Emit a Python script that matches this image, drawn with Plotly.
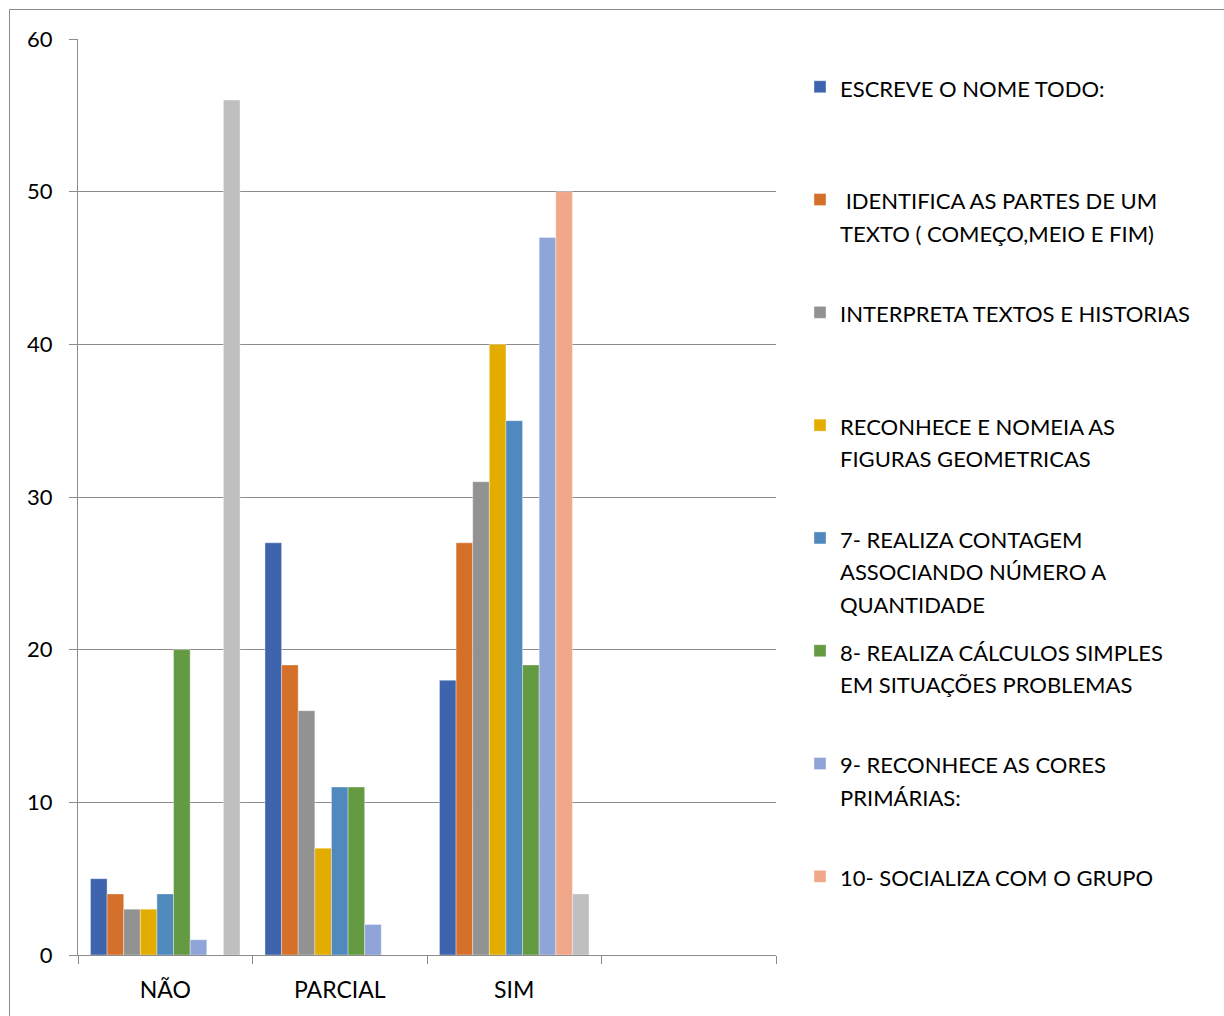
import plotly.graph_objects as go

# ---------------- data ----------------
categories = ["NÃO", "PARCIAL", "SIM", " "]

series_labels = [
    ["ESCREVE O NOME TODO:"],
    ["\u00a0IDENTIFICA AS PARTES DE UM", "TEXTO ( COMEÇO,MEIO E FIM)"],
    ["INTERPRETA TEXTOS E HISTORIAS"],
    ["RECONHECE E NOMEIA AS", "FIGURAS GEOMETRICAS"],
    ["7- REALIZA CONTAGEM", "ASSOCIANDO NÚMERO A", "QUANTIDADE"],
    ["8- REALIZA CÁLCULOS SIMPLES", "EM SITUAÇÕES PROBLEMAS"],
    ["9- RECONHECE AS CORES", "PRIMÁRIAS:"],
    ["10- SOCIALIZA COM O GRUPO"],
    ["Série9"],
]

escreve_nome = [5, 27, 18, None]
identifica_partes = [4, 19, 27, None]
interpreta_textos = [3, 16, 31, None]
reconhece_figuras = [3, 7, 40, None]
realiza_contagem = [4, 11, 35, None]
realiza_calculos = [20, 11, 19, None]
reconhece_cores = [1, 2, 47, None]
socializa_grupo = [0, 0, 50, None]
serie9 = [56, 0, 4, None]

series_values = [escreve_nome, identifica_partes, interpreta_textos,
                 reconhece_figuras, realiza_contagem, realiza_calculos,
                 reconhece_cores, socializa_grupo, serie9]
show_in_legend = [True] * 8 + [False]

y_ticks = [0, 10, 20, 30, 40, 50, 60]

# ---------------- style ----------------
colors = ["#3E64AD", "#D5702B", "#929292", "#E3AC00", "#4F89BE",
          "#639A42", "#8FA5D7", "#F1A88A", "#BFBFBF"]
FONT = "Lato"
GRID = "#8C8C8C"
LEG_LINE_FONT = 25   # controls line spacing of the legend
LEG_TEXT_FONT = 22   # visible glyph size


def legend_name(lines):
    padded = list(lines) + ["\u00a0"] * (3 - len(lines))
    return "<br>".join(
        f'<span style="font-size:{LEG_TEXT_FONT}px">{ln}</span>' for ln in padded)


fig = go.Figure()
for i, (lines, vals) in enumerate(zip(series_labels, series_values)):
    fig.add_trace(go.Bar(
        x=categories, y=vals, name=legend_name(lines),
        marker=dict(color=colors[i], line=dict(width=0.6, color="rgba(255,255,255,0.6)")),
        showlegend=show_in_legend[i], legendgroup=f"g{i}",
    ))

W, H = 1224, 1016
L, R, T, B = 78, 448, 39, 61
pw, ph = W - L - R, H - T - B

fig.update_layout(
    width=W, height=H,
    template="none",
    paper_bgcolor="white", plot_bgcolor="white",
    margin=dict(l=L, r=R, t=T, b=B, pad=0),
    barmode="group", bargap=0.143, bargroupgap=0,
    font=dict(family=FONT, color="#000000", size=22),
    showlegend=True,
    legend=dict(
        x=(800 - L) / pw, xanchor="left",
        y=1.0 - 25 / ph, yanchor="top",
        font=dict(family=FONT, size=LEG_LINE_FONT, color="#000000"),
        valign="top", traceorder="grouped", tracegroupgap=12.3,
        borderwidth=0, bgcolor="rgba(0,0,0,0)",
    ),
    xaxis=dict(
        type="category", categoryorder="array", categoryarray=categories,
        range=[-0.5, len(categories) - 0.5],
        showline=True, linecolor=GRID, linewidth=1,
        ticks="outside", tickson="boundaries", ticklen=8, tickcolor=GRID, tickwidth=1,
        showgrid=False, zeroline=False,
        tickfont=dict(family=FONT, size=23, color="#000000"),
        ticklabelstandoff=14,
    ),
    yaxis=dict(
        range=[0, 60], tickvals=y_ticks, ticktext=[str(v) for v in y_ticks],
        showline=True, linecolor=GRID, linewidth=1,
        ticks="outside", ticklen=8, tickcolor=GRID, tickwidth=1,
        showgrid=True, gridcolor=GRID, gridwidth=1, zeroline=False,
        tickfont=dict(family=FONT, size=22, color="#000000"),
        ticklabelstandoff=12,
    ),
)

# outer chart frame (top and left edges visible in the reference)
fx = (9.5 - L) / pw
fy = (H - B - 9.5) / ph
fig.add_shape(type="line", xref="paper", yref="paper", x0=fx, x1=(W + 10 - L) / pw,
              y0=fy, y1=fy, line=dict(color="#8A8A8A", width=1), layer="below")
fig.add_shape(type="line", xref="paper", yref="paper", x0=fx, x1=fx,
              y0=fy, y1=-(B + 10) / ph, line=dict(color="#8A8A8A", width=1), layer="below")

fig.write_html("out.html")
